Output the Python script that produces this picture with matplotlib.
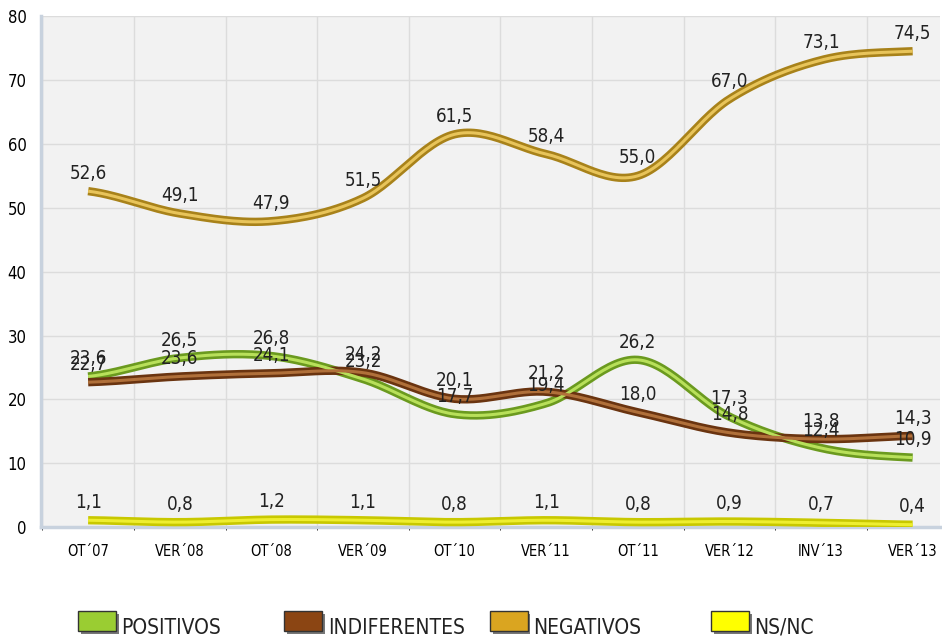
import matplotlib.pyplot as plt
import matplotlib.patches as mpatches
import numpy as np

# 좁은 글꼴 (DejaVu Sans Condensed)
plt.rcParams["font.family"] = ["DejaVu Sans"]
plt.rcParams["font.stretch"] = "condensed"

# 데이터
categories = ["OT´07", "VER´08", "OT´08", "VER´09", "OT´10",
              "VER´11", "OT´11", "VER´12", "INV´13", "VER´13"]
positivos = [23.6, 26.5, 26.8, 23.2, 17.7, 19.4, 26.2, 17.3, 12.4, 10.9]
indiferentes = [22.7, 23.6, 24.1, 24.2, 20.1, 21.2, 18.0, 14.8, 13.8, 14.3]
negativos = [52.6, 49.1, 47.9, 51.5, 61.5, 58.4, 55.0, 67.0, 73.1, 74.5]
nsnc = [1.1, 0.8, 1.2, 1.1, 0.8, 1.1, 0.8, 0.9, 0.7, 0.4]


def smooth(xs, ys, n=30):
    # Catmull-Rom 곡선으로 점들을 부드럽게 잇기
    xs = np.asarray(xs, float)
    ys = np.asarray(ys, float)
    px = np.concatenate([[2 * xs[0] - xs[1]], xs, [2 * xs[-1] - xs[-2]]])
    py = np.concatenate([[ys[0]], ys, [ys[-1]]])
    ox, oy = [], []
    t = np.linspace(0, 1, n)
    for i in range(1, len(px) - 2):
        for p, out in ((px, ox), (py, oy)):
            p0, p1, p2, p3 = p[i - 1], p[i], p[i + 1], p[i + 2]
            m1 = (p2 - p0) / 2
            m2 = (p3 - p1) / 2
            h00 = 2 * t**3 - 3 * t**2 + 1
            h10 = t**3 - 2 * t**2 + t
            h01 = -2 * t**3 + 3 * t**2
            h11 = t**3 - t**2
            out.extend(h00 * p1 + h10 * m1 + h01 * p2 + h11 * m2)
    return np.array(ox), np.array(oy)


series = [
    ("POSITIVOS", positivos, "#9acd32", "#6b9a1f", "#b8e05a"),
    ("INDIFERENTES", indiferentes, "#8b4513", "#6a3410", "#b0703a"),
    ("NEGATIVOS", negativos, "#daa520", "#a8821a", "#e8c45a"),
    ("NS/NC", nsnc, "#ffff00", "#c8c800", "#eeee30"),
]

fig = plt.figure(figsize=(9.42, 6.43), dpi=100)
ax = fig.add_axes([0.043, 0.18, 0.955, 0.795])
ax.set_facecolor("#f2f2f2")

x = np.arange(len(categories))
for name, vals, base, dark, light in series:
    sx, sy = smooth(x, vals)
    ax.plot(sx, sy, color=dark, lw=6, solid_capstyle="butt", zorder=3)
    ax.plot(sx, sy, color=light, lw=2.2, solid_capstyle="butt", zorder=4)
    for xi, v in zip(x, vals):
        ax.annotate(f"{v:.1f}".replace(".", ","), (xi, v), xytext=(0, 6),
                    textcoords="offset points", ha="center", va="bottom",
                    fontsize=13.5, color="#222222", zorder=5)

ax.set_xlim(-0.52, 9.3)
ax.set_ylim(0, 80)
ax.set_yticks(range(0, 81, 10))
ax.set_xticks(x)
ax.set_xticklabels(categories, fontsize=10.5)
ax.tick_params(axis="y", labelsize=12, length=0, pad=10)
ax.tick_params(axis="x", length=0, pad=12)
ax.set_xticks(np.arange(-0.5, 9.5, 1), minor=True)
ax.grid(True, axis="y", color="#dcdcdc", lw=1)
ax.grid(True, axis="x", which="minor", color="#dcdcdc", lw=1)
ax.set_axisbelow(True)
for s in ("top", "right"):
    ax.spines[s].set_visible(False)
ax.spines["left"].set_color("#c8d2de")
ax.spines["left"].set_linewidth(2.5)
ax.spines["bottom"].set_color("#c8d2de")
ax.spines["bottom"].set_linewidth(2.5)

# 범례
legend_x = [0.083, 0.302, 0.52, 0.755]
for (name, vals, base, dark, light), lx in zip(series, legend_x):
    fig.patches.append(mpatches.Rectangle((lx + 0.003, 0.0135), 0.04, 0.032,
                                          transform=fig.transFigure,
                                          facecolor="#777777", edgecolor="none"))
    fig.patches.append(mpatches.Rectangle((lx, 0.018), 0.04, 0.032,
                                          transform=fig.transFigure,
                                          facecolor=base, edgecolor="#333333", lw=1))
    fig.text(lx + 0.046, 0.024, name, fontsize=15, va="center", ha="left", color="#222222")

fig.savefig("out.png", dpi=100, facecolor="white")
